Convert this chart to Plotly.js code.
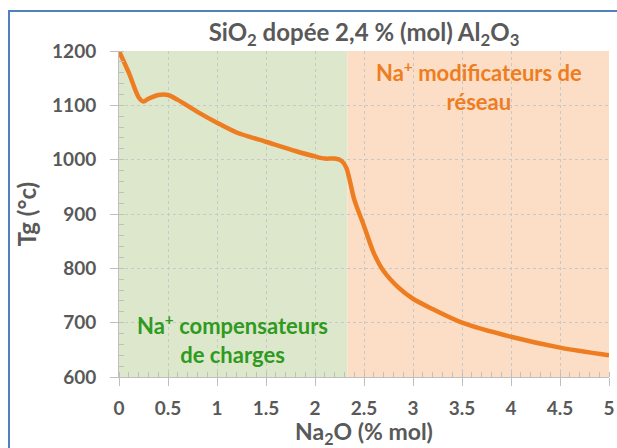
<!DOCTYPE html>
<html>
<head>
<meta charset="utf-8">
<script src="https://cdn.plot.ly/plotly-3.0.1.min.js"></script>
<style>
  html, body { margin: 0; padding: 0; background: #ffffff; }
  #wrap { position: relative; width: 617px; height: 448px; overflow: hidden; }
  #chart { position: absolute; left: 0; top: 0; width: 617px; height: 448px; }
  #frame { position: absolute; left: 8px; top: 10px; width: 700px; height: 600px;
           border-left: 2px solid #4F81BD; border-top: 2px solid #4F81BD; pointer-events: none; }
</style>
</head>
<body>
<div id="wrap">
  <div id="chart"></div>
  <div id="frame"></div>
</div>
<script>
// Data
const na2o = [0, 0.1, 0.2, 0.25, 0.3, 0.4, 0.5, 0.6, 0.8, 1.0, 1.2, 1.5, 1.8, 2.0, 2.1, 2.2, 2.27, 2.32, 2.4, 2.5, 2.6, 2.7, 2.85, 3.0, 3.2, 3.5, 4.0, 4.5, 5.0];
const tg   = [1200, 1160, 1115, 1107, 1112, 1119, 1119, 1110, 1088, 1068, 1050, 1033, 1016, 1006, 1002, 1002, 998, 985, 927, 878, 828, 795, 765, 744, 725, 700, 674, 654, 640];
const regionBounds = [0, 2.33, 5];
const regionLabels = ["Na<sup>+</sup> compensateurs<br>de charges", "Na<sup>+</sup> modificateurs de<br>réseau"];
const titleText = "SiO<sub>2</sub> dopée 2,4 % (mol) Al<sub>2</sub>O<sub>3</sub>";
const xTitle = "Na<sub>2</sub>O (% mol)";
const yTitle = "Tg (°c)";

const FONT = "Lato, 'Open Sans', sans-serif";
const GRAY = "#595959";

const trace = {
  x: na2o, y: tg, type: "scatter", mode: "lines",
  line: { color: "#EE7D22", width: 4.5, shape: "spline", smoothing: 0.8 },
  hoverinfo: "skip"
};

const layout = {
  width: 617, height: 448,
  margin: { l: 119, r: 8, t: 51, b: 71 },
  paper_bgcolor: "#ffffff", plot_bgcolor: "#ffffff",
  showlegend: false,
  font: { family: FONT, color: GRAY },
  title: { text: titleText, x: 0.5, xref: "paper", xanchor: "center", y: 0.928, yanchor: "middle",
           font: { family: FONT, size: 24, color: GRAY, weight: "bold" } },
  xaxis: {
    range: [0, 5], dtick: 0.5, tick0: 0,
    showgrid: true, gridcolor: "#c8c8c8", griddash: "dot", gridwidth: 1,
    zeroline: false, showline: true, linecolor: "#bfbfbf", linewidth: 1,
    ticks: "outside", ticklen: 8, tickcolor: "#bfbfbf", ticklabelstandoff: 6,
    minor: { ticks: "inside", dtick: 0.1, ticklen: 5, tickcolor: "#bfbfbf", showgrid: false },
    tickfont: { family: FONT, size: 19, color: GRAY, weight: "bold" },
    title: { text: xTitle, standoff: 4, font: { family: FONT, size: 23, color: GRAY, weight: "bold" } }
  },
  yaxis: {
    range: [600, 1200], dtick: 100,
    showgrid: true, gridcolor: "#c8c8c8", griddash: "dot", gridwidth: 1,
    zeroline: false, showline: true, linecolor: "#bfbfbf", linewidth: 1,
    ticks: "outside", ticklen: 8, tickcolor: "#bfbfbf", ticklabelstandoff: 10,
    minor: { ticks: "inside", dtick: 20, ticklen: 5, tickcolor: "#bfbfbf", showgrid: false },
    tickfont: { family: FONT, size: 19, color: GRAY, weight: "bold" },
    title: { text: yTitle, standoff: 8, font: { family: FONT, size: 24, color: GRAY, weight: "bold" } }
  },
  shapes: [
    { type: "rect", xref: "x", yref: "paper", x0: regionBounds[0], x1: regionBounds[1], y0: 0, y1: 1,
      fillcolor: "#DDE7CB", line: { width: 0 }, layer: "below" },
    { type: "rect", xref: "x", yref: "paper", x0: regionBounds[1], x1: regionBounds[2], y0: 0, y1: 1,
      fillcolor: "#FCDEC6", line: { width: 0 }, layer: "below" }
  ],
  annotations: [
    { text: regionLabels[0], xref: "x", yref: "paper", x: (regionBounds[0] + regionBounds[1]) / 2 - 0.01, y: 0.118,
      showarrow: false, align: "center", xanchor: "center", yanchor: "middle",
      font: { family: FONT, size: 22, color: "#2E9A1E", weight: "bold" } },
    { text: regionLabels[1], xref: "x", yref: "paper", x: (regionBounds[1] + regionBounds[2]) / 2 + 0.01, y: 0.893,
      showarrow: false, align: "center", xanchor: "center", yanchor: "middle",
      font: { family: FONT, size: 22, color: "#EE7D22", weight: "bold" } }
  ]
};

Plotly.newPlot("chart", [trace], layout, { staticPlot: true, displayModeBar: false });
</script>
</body>
</html>
